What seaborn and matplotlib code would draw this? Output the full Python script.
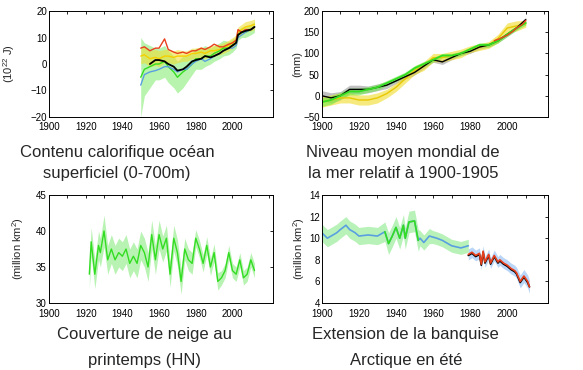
import numpy as np
import pandas as pd
import seaborn as sns
import matplotlib.pyplot as plt

# --- panel 1 : ocean heat content (10^22 J)
ohc_years = [1950, 1952, 1955, 1958, 1960, 1963, 1965, 1968, 1970, 1973, 1975, 1978, 1980,
             1983, 1985, 1988, 1990, 1993, 1995, 1998, 2000, 2002, 2003, 2005, 2007, 2010, 2012]
ohc_red = [6, 6.5, 5, 6, 6, 9.5, 5.5, 4.5, 4, 4.5, 4, 5, 5, 6, 5.5, 6.5, 7.5, 6.5, 6.5, 7.5, 8, 9, 13, 12, 13, 13, 14]
ohc_blue = [-8, -4, -3, -2.5, -2, -1, -1, -2, -3, -2, -2, 0, 1, 2, 1, 2, 3, 4, 5, 6, 6, 7, 10, 11, 12, 13, 14]
ohc_green = [-5, -2, -1, 0, 0, 1, -1, -3, -5, -3, -2, 0, 2, 2, 3, 3, 4, 5, 6, 6, 7, 8, 11, 12, 12, 13, 14]
ohc_green_err = [15, 10, 8, 6, 6, 6, 6, 6, 6, 6, 5, 4, 4, 4, 4, 3, 3, 3, 3, 2.5, 2.5, 2, 2, 2, 2, 2, 2]
ohc_yellow = [3, 3.5, 2, 2.5, 2, 3, 3, 2.5, 3, 3, 3, 4, 4, 4.5, 4, 5, 5, 5.5, 6, 7, 8, 9, 12, 13, 14, 14.5, 15]
ohc_yellow_err = [3, 3, 3, 3, 3, 2.5, 2.5, 2.5, 2.5, 2, 2, 2, 2, 2, 2, 2, 2, 2, 2, 2, 2, 2, 2, 2, 2, 2, 2]
ohc_black_years = [1955, 1958, 1960, 1963, 1965, 1968, 1970, 1973, 1975, 1978, 1980, 1983, 1985,
                   1988, 1990, 1993, 1995, 1998, 2000, 2002, 2003, 2005, 2007, 2010, 2012]
ohc_black = [0, 1.5, 1.5, 1, 0, -1, -2.5, -2, -1, 1, 1.5, 2, 3, 2.5, 3, 4, 5, 6, 7, 8, 11, 12, 12.5, 13, 14]

# --- panel 2 : global mean sea level (mm)
sl_years = [1900, 1905, 1910, 1915, 1920, 1925, 1930, 1935, 1940, 1945, 1950, 1955,
            1960, 1965, 1970, 1975, 1980, 1985, 1990, 1995, 2000, 2005, 2010]
sl_black = [0, -5, 0, 15, 15, 15, 20, 25, 35, 45, 55, 70, 85, 80, 90, 100, 105, 115, 120, 130, 145, 160, 180]
sl_black_err = [12, 12, 10, 10, 10, 8, 8, 8, 6, 6, 6, 6, 6, 6, 5, 5, 5, 5, 5, 5, 5, 5, 5]
sl_green = [-15, -10, 0, 10, 10, 15, 20, 30, 40, 50, 65, 75, 85, 95, 95, 100, 110, 120, 120, 130, 145, 160, 172]
sl_green_err = [10, 10, 8, 8, 8, 7, 7, 6, 6, 6, 6, 6, 5, 5, 5, 5, 5, 5, 5, 5, 5, 5, 5]
sl_yellow = [-15, -10, -5, -5, -10, -10, -5, 5, 20, 40, 60, 70, 90, 90, 95, 100, 110, 115, 120, 135, 160, 165, 170]
sl_yellow_err = [12, 12, 12, 12, 12, 12, 12, 10, 10, 10, 10, 10, 10, 10, 10, 10, 8, 8, 8, 10, 12, 12, 8]
sl_red_years = [1993, 1996, 2000, 2003, 2005, 2008, 2010]
sl_red = [130, 135, 143, 152, 160, 168, 178]

# --- panel 3 : NH spring snow cover (million km2)
snow_years = [1922, 1923, 1925, 1927, 1928, 1930, 1932, 1934, 1936, 1938, 1940, 1942, 1944, 1946,
              1948, 1950, 1952, 1954, 1956, 1958, 1960, 1962, 1964, 1966, 1968, 1970, 1972, 1974,
              1976, 1978, 1980, 1982, 1984, 1986, 1988, 1990, 1992, 1994, 1996, 1998, 2000, 2002,
              2004, 2006, 2008, 2010, 2012]
snow = [34, 38.5, 34, 38, 37, 40, 36, 37.5, 36, 37, 36.5, 37.5, 35.5, 36.5, 35.5, 38, 37, 35, 39.5, 36,
        39.5, 37.5, 39, 34, 39, 37, 33, 37.5, 36, 35.5, 39, 37.5, 35.5, 38, 35, 37, 33, 33.5, 34.5, 37,
        34.5, 34, 36, 33.5, 34, 36, 34.5]
snow_err = [2, 2, 2, 2, 2, 2.2, 2, 2, 2, 2, 2, 2, 2, 2, 2, 2, 2, 2, 2, 2, 2, 1.8, 1.8, 1.8, 1.8, 1.8,
            1.8, 1.5, 1.5, 1.5, 1.2, 1.2, 1.2, 1.2, 1.2, 1.2, 1.2, 1, 1, 1, 1, 1, 1, 1, 1, 1, 1]

# --- panel 4 : Arctic summer sea ice extent (million km2)
ice_years = [1900, 1903, 1905, 1908, 1910, 1913, 1915, 1918, 1920, 1925, 1930, 1934, 1936, 1938,
             1940, 1942, 1944, 1945, 1947, 1950, 1952, 1953, 1955, 1958, 1960, 1962, 1965, 1968,
             1970, 1975, 1979]
ice_hist = [10.5, 10, 10.2, 10.5, 10.8, 11.2, 10.8, 10.5, 10.2, 10.3, 10.2, 10.6, 9.5, 10.2, 11, 10,
            11.2, 10, 11.5, 11.6, 9.8, 10, 9.6, 10.2, 10.1, 10, 9.8, 9.5, 9.3, 9.1, 9.3]
ice_hist_err = [0.8, 0.8, 0.8, 0.8, 0.8, 0.8, 0.8, 0.8, 0.8, 0.8, 0.8, 0.9, 1, 1, 1, 1, 1, 1, 1, 1,
                1, 0.7, 0.7, 0.7, 0.6, 0.6, 0.6, 0.6, 0.6, 0.6, 0.6]
ice_sat_years = [1979, 1981, 1983, 1985, 1986, 1987, 1988, 1990, 1991, 1993, 1995, 1996, 1998,
                 2000, 2002, 2004, 2005, 2007, 2009, 2011, 2012]
ice_red = [8.5, 8.7, 8.4, 8.6, 7.6, 8.8, 7.8, 8.5, 7.7, 8.4, 7.8, 8.0, 7.7, 7.5, 7.2, 7.0, 6.8, 6.0, 6.5, 6.0, 5.5]
ice_black = [8.4, 8.6, 8.3, 8.5, 7.5, 8.7, 7.7, 8.4, 7.6, 8.3, 7.7, 7.9, 7.6, 7.4, 7.1, 6.9, 6.7, 5.9, 6.4, 5.9, 5.5]
ice_blue_err = [0.5, 0.5, 0.5, 0.5, 0.5, 0.5, 0.5, 0.5, 0.5, 0.5, 0.5, 0.5, 0.5, 0.5, 0.5, 0.5, 0.5,
                0.6, 0.6, 0.6, 0.6]

titles = [("Contenu calorifique océan", "superficiel (0-700m)"),
          ("Niveau moyen mondial de", "la mer relatif à 1900-1905"),
          ("Couverture de neige au", "printemps (HN)"),
          ("Extension de la banquise", "Arctique en été")]
ylabels = ["(10$^{22}$ J)", "(mm)", "(million km$^2$)", "(million km$^2$)"]

sns.set_style("white")
plt.rcParams['font.family'] = ['Liberation Sans', 'DejaVu Sans']
plt.rcParams['mathtext.fontset'] = 'custom'
plt.rcParams['mathtext.rm'] = 'Liberation Sans'

RED, BLACK, BLUE, GREEN, YELLOW = "#e8401c", "black", "#5aa0e0", "#33dd22", "#f0dc28"

fig = plt.figure(figsize=(5.83, 3.70), dpi=100)
ax1 = fig.add_axes([0.084, 0.684, 0.384, 0.286])
ax2 = fig.add_axes([0.552, 0.684, 0.388, 0.286])
ax3 = fig.add_axes([0.084, 0.181, 0.384, 0.292])
ax4 = fig.add_axes([0.552, 0.181, 0.388, 0.292])


def band(ax, x, y, e, color, alpha):
    y = np.array(y, float)
    e = np.array(e, float)
    ax.fill_between(x, y - e, y + e, color=color, alpha=alpha, lw=0)


def line(ax, x, y, color, lw=1.0):
    sns.lineplot(x=x, y=y, ax=ax, color=color, lw=lw, errorbar=None)


# panel 1
band(ax1, ohc_years, ohc_green, ohc_green_err, "#a8f29a", 0.8)
band(ax1, ohc_years, ohc_yellow, ohc_yellow_err, YELLOW, 0.55)
line(ax1, ohc_years, ohc_yellow, "#f5d000")
line(ax1, ohc_years, ohc_green, GREEN)
line(ax1, ohc_years, ohc_blue, BLUE)
line(ax1, ohc_years, ohc_red, RED)
line(ax1, ohc_black_years, ohc_black, BLACK, 1.3)
ax1.set_ylim(-20, 20)
ax1.set_yticks([-20, -10, 0, 10, 20])

# panel 2
band(ax2, sl_years, sl_black, sl_black_err, "#999999", 0.6)
band(ax2, sl_years, sl_yellow, sl_yellow_err, YELLOW, 0.6)
band(ax2, sl_years, sl_green, sl_green_err, "#66ee44", 0.55)
line(ax2, sl_years, sl_yellow, "#e8c800")
line(ax2, sl_years, sl_black, BLACK)
line(ax2, sl_years, sl_green, GREEN, 1.3)
line(ax2, sl_red_years, sl_red, RED)
ax2.set_ylim(-50, 200)
ax2.set_yticks([-50, 0, 50, 100, 150, 200])

# panel 3
band(ax3, snow_years, snow, snow_err, "#a8f0a0", 0.8)
line(ax3, snow_years, snow, GREEN)
ax3.set_ylim(30, 45)
ax3.set_yticks([30, 35, 40, 45])

# panel 4
band(ax4, ice_years, ice_hist, ice_hist_err, "#80e880", 0.55)
band(ax4, ice_sat_years, ice_red, ice_blue_err, "#9cc4f4", 0.7)
line(ax4, ice_years, ice_hist, BLUE, 1.2)
line(ax4, ice_years[11:21], ice_hist[11:21], GREEN, 1.2)
line(ax4, ice_sat_years, ice_black, BLACK, 1.2)
line(ax4, ice_sat_years, ice_red, RED, 1.2)
ax4.set_ylim(4, 14)
ax4.set_yticks([4, 6, 8, 10, 12, 14])

title_x = [0.2007, 0.691, 0.247, 0.696]
title_y = [(0.5757, 0.519), (0.5757, 0.519), (0.0838, 0.0135), (0.0838, 0.0135)]
label_x = [-0.143, -0.088, -0.103, -0.066]
for ax, t, yl, tx, ty, lx in zip([ax1, ax2, ax3, ax4], titles, ylabels, title_x, title_y, label_x):
    ax.set_xlim(1900, 2022)
    ax.set_xticks([1900, 1920, 1940, 1960, 1980, 2000])
    ax.set_xticks(np.arange(1900, 2021, 10), minor=True)
    ax.tick_params(axis="both", which="both", direction="in", top=True, right=True,
                   labelsize=7, length=2.5, width=0.6, pad=1.5, colors="black")
    ax.tick_params(axis="x", which="both", pad=4)
    ax.set_ylabel(yl, fontsize=8)
    ax.yaxis.set_label_coords(lx, 0.5)
    ax.set_xlabel("")
    for s in ax.spines.values():
        s.set_color("black")
        s.set_linewidth(0.7)
    for line_txt, y in zip(t, ty):
        fig.text(tx, y, line_txt, ha="center", va="baseline", fontsize=12)

fig.savefig("out.png", dpi=100)
